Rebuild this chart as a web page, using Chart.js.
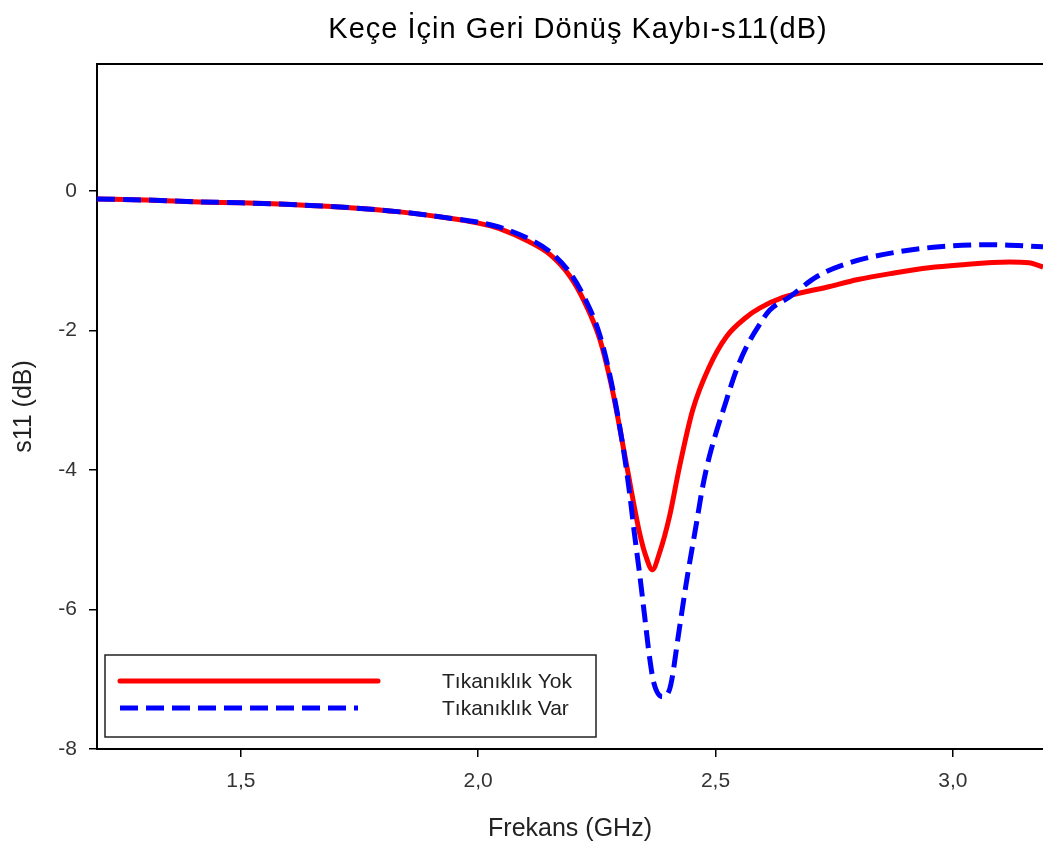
<!DOCTYPE html>
<html>
<head>
<meta charset="utf-8">
<title>Keçe İçin Geri Dönüş Kaybı</title>
<script src="https://cdn.jsdelivr.net/npm/chart.js@4.4.1/dist/chart.umd.min.js"></script>
<style>
  body { margin: 0; background: #fff; }
  #wrap { width: 1043px; height: 848px; }
</style>
</head>
<body>
<div id="wrap"><canvas id="s11Chart" width="1043" height="848"></canvas></div>
<script>
// Frekans (GHz) / s11 (dB) - keçe, tıkanıklık yok
const freqYok = [1.197, 1.30, 1.414, 1.50, 1.624, 1.73, 1.835, 1.94, 2.00, 2.045, 2.108, 2.151, 2.193, 2.224, 2.256, 2.283, 2.313, 2.340, 2.354, 2.367, 2.382, 2.403, 2.424, 2.452, 2.487, 2.523, 2.565, 2.593, 2.641, 2.734, 2.80, 2.873, 2.95, 3.014, 3.119, 3.16, 3.19];
const s11Yok  = [-0.115, -0.13, -0.158, -0.17, -0.20, -0.24, -0.30, -0.39, -0.46, -0.54, -0.73, -0.91, -1.22, -1.59, -2.12, -2.86, -3.94, -4.90, -5.25, -5.43, -5.19, -4.67, -3.96, -3.14, -2.52, -2.09, -1.81, -1.68, -1.53, -1.38, -1.27, -1.18, -1.10, -1.06, -1.02, -1.03, -1.09];

// keçe, tıkanıklık var
const freqVar = [1.197, 1.30, 1.414, 1.50, 1.624, 1.73, 1.835, 1.94, 2.00, 2.045, 2.108, 2.151, 2.193, 2.224, 2.256, 2.283, 2.308, 2.319, 2.329, 2.340, 2.351, 2.361, 2.370, 2.388, 2.403, 2.424, 2.438, 2.460, 2.473, 2.487, 2.523, 2.544, 2.565, 2.599, 2.614, 2.656, 2.713, 2.782, 2.887, 2.972, 3.077, 3.19];
const s11Var  = [-0.115, -0.13, -0.158, -0.17, -0.20, -0.24, -0.30, -0.39, -0.45, -0.52, -0.69, -0.87, -1.17, -1.53, -2.06, -2.82, -3.79, -4.33, -4.90, -5.48, -6.11, -6.68, -7.05, -7.25, -7.15, -6.27, -5.64, -4.76, -4.24, -3.81, -3.00, -2.57, -2.24, -1.85, -1.71, -1.52, -1.23, -1.03, -0.87, -0.80, -0.77, -0.80];

const xTicks = [1.5, 2.0, 2.5, 3.0];
const yTicks = [0, -2, -4, -6, -8];

const FONT = "'Liberation Sans', Arial, sans-serif";
Chart.defaults.font.family = FONT;
Chart.defaults.color = "#222";

const toPoints = (xs, ys) => xs.map((x, i) => ({x: x, y: ys[i]}));

// başlık ve çerçevenin üst çizgisi
const titlePlugin = {
    id: "titleAndFrame",
    afterDraw(chart) {
        const ctx = chart.ctx;
        const area = chart.chartArea;
        ctx.save();
        ctx.strokeStyle = "#000";
        ctx.lineWidth = 2;
        ctx.beginPath();
        ctx.moveTo(area.left - 1, area.top);
        ctx.lineTo(chart.width, area.top);
        ctx.stroke();

        ctx.fillStyle = "#000";
        ctx.font = "29px " + FONT;
        ctx.letterSpacing = "1px";
        ctx.textAlign = "center";
        ctx.textBaseline = "alphabetic";
        ctx.fillText("Keçe İçin Geri Dönüş Kaybı-s11(dB)", 578, 38);
        ctx.restore();
    }
};

// sol alttaki kutulu lejant
const legendPlugin = {
    id: "boxLegend",
    afterDraw(chart) {
        const ctx = chart.ctx;
        const box = {x: 105, y: 655, w: 491, h: 82};
        ctx.save();
        ctx.fillStyle = "#fff";
        ctx.fillRect(box.x, box.y, box.w, box.h);
        ctx.strokeStyle = "#222";
        ctx.lineWidth = 1.5;
        ctx.strokeRect(box.x, box.y, box.w, box.h);

        const rows = [
            {ds: chart.data.datasets[0], y: 681, end: 378},
            {ds: chart.data.datasets[1], y: 708, end: 358}
        ];
        rows.forEach(r => {
            ctx.strokeStyle = r.ds.borderColor;
            ctx.lineWidth = r.ds.borderWidth;
            ctx.lineCap = r.ds.borderDash ? "butt" : "round";
            ctx.setLineDash(r.ds.borderDash || []);
            ctx.beginPath();
            ctx.moveTo(120, r.y);
            ctx.lineTo(r.end, r.y);
            ctx.stroke();
            ctx.setLineDash([]);

            ctx.fillStyle = "#222";
            ctx.font = "21px " + FONT;
            ctx.textAlign = "left";
            ctx.textBaseline = "middle";
            ctx.fillText(r.ds.label, 442, r.y + 1);
        });
        ctx.restore();
    }
};

const chart = new Chart(document.getElementById("s11Chart"), {
    type: "line",
    data: {
        datasets: [
            {
                label: "Tıkanıklık Yok",
                data: toPoints(freqYok, s11Yok),
                borderColor: "#ff0000",
                borderWidth: 5,
                cubicInterpolationMode: "monotone",
                pointRadius: 0,
                order: 1
            },
            {
                label: "Tıkanıklık Var",
                data: toPoints(freqVar, s11Var),
                borderColor: "#0000ff",
                borderWidth: 5,
                borderDash: [18, 8],
                cubicInterpolationMode: "monotone",
                pointRadius: 0,
                order: 0
            }
        ]
    },
    options: {
        responsive: false,
        animation: false,
        layout: { padding: {top: 64, left: 0, right: 0, bottom: 0} },
        plugins: {
            legend: { display: false },
            tooltip: { enabled: false },
            title: { display: false }
        },
        scales: {
            x: {
                type: "linear",
                min: 1.197,
                max: 3.19,
                afterFit: s => { s.height = 99; },
                afterBuildTicks: s => { s.ticks = xTicks.map(v => ({value: v})); },
                ticks: {
                    padding: 12,
                    font: {size: 21},
                    color: "#333",
                    callback: v => v.toFixed(1).replace(".", ",")
                },
                grid: { drawOnChartArea: false, tickLength: 8, color: "#000", lineWidth: 1.5 },
                border: { display: true, color: "#000", width: 2 },
                title: {
                    display: true,
                    text: "Frekans (GHz)",
                    font: {size: 25},
                    color: "#222",
                    padding: {top: 0, bottom: 4}
                }
            },
            y: {
                min: -8,
                max: 1.82,
                afterFit: s => { s.width = 97; },
                afterBuildTicks: s => { s.ticks = yTicks.map(v => ({value: v})); },
                ticks: {
                    padding: 12,
                    font: {size: 21},
                    color: "#333"
                },
                grid: { drawOnChartArea: false, tickLength: 8, color: "#000", lineWidth: 1.5 },
                border: { display: true, color: "#000", width: 2 },
                title: {
                    display: true,
                    text: "s11 (dB)",
                    font: {size: 25},
                    color: "#222",
                    padding: {top: 9, bottom: 0}
                }
            }
        }
    },
    plugins: [titlePlugin, legendPlugin]
});
</script>
</body>
</html>
